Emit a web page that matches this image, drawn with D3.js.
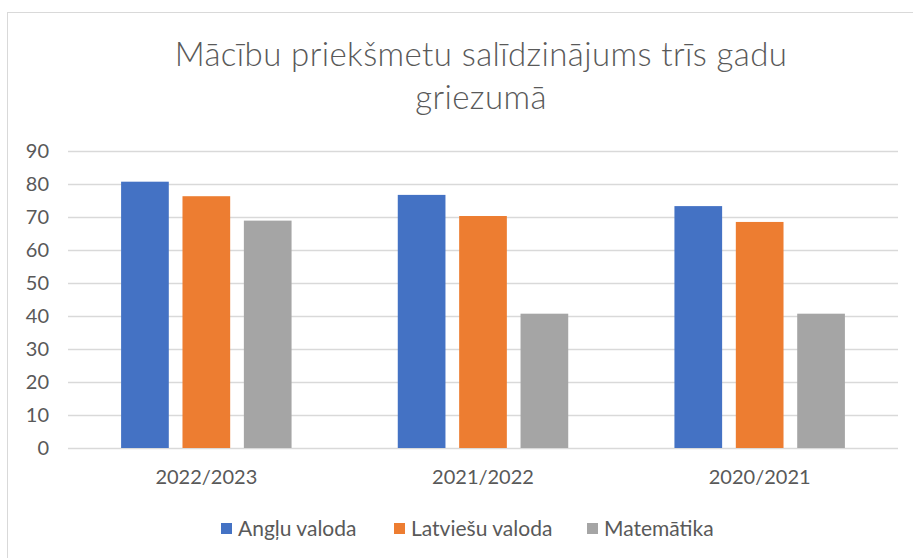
<!DOCTYPE html>
<html>
<head>
<meta charset="utf-8">
<script src="https://cdn.jsdelivr.net/npm/d3@7"></script>
<style>
  body { margin: 0; background: #fff; }
  svg { display: block; font-family: Lato, "Open Sans", sans-serif; }
</style>
</head>
<body>
<svg id="chart" width="913" height="558"></svg>
<script>
// data
const years = ['2022/2023', '2021/2022', '2020/2021'];
const subjects = ['Angļu valoda', 'Latviešu valoda', 'Matemātika'];
const angluValues = [80.7, 76.7, 73.3];
const latviesuValues = [76.3, 70.3, 68.5];
const matematikaValues = [68.9, 40.7, 40.7];
const yTicks = [0, 10, 20, 30, 40, 50, 60, 70, 80, 90];
const colors = ['#4472C4', '#ED7D31', '#A5A5A5'];

const seriesValues = [angluValues, latviesuValues, matematikaValues];

const svg = d3.select('#chart');

// chart frame
svg.append('rect')
  .attr('x', 7.5).attr('y', 12.5)
  .attr('width', 940).attr('height', 600)
  .attr('fill', '#fff')
  .attr('stroke', '#d9d9d9');

// title
const title = svg.append('text')
  .attr('text-anchor', 'middle')
  .attr('fill', '#595959')
  .style('font-weight', 300)
  .style('font-size', '33px')
  .style('letter-spacing', '0.4px');
title.append('tspan').attr('x', 481).attr('y', 66).text('Mācību priekšmetu salīdzinājums trīs gadu');
title.append('tspan').attr('x', 481).attr('y', 109).text('griezumā');

const xScale = d3.scaleBand()
  .domain(years)
  .range([68, 898]);

const xInner = d3.scaleBand()
  .domain(subjects)
  .range([0, xScale.bandwidth()])
  .paddingInner(0.223)
  .paddingOuter(0.865);

const yScale = d3.scaleLinear()
  .domain([0, 90])
  .range([448, 151]);

// gridlines
svg.append('g')
  .selectAll('line')
  .data(yTicks)
  .enter()
  .append('line')
  .attr('x1', 68)
  .attr('x2', 898)
  .attr('y1', d => Math.round(yScale(d)) + 0.5)
  .attr('y2', d => Math.round(yScale(d)) + 0.5)
  .attr('stroke', '#d9d9d9')
  .attr('stroke-width', 1.3);

// y axis labels
const yAxis = svg.append('g')
  .attr('transform', 'translate(58, 0)')
  .call(d3.axisLeft(yScale).tickValues(yTicks).tickSize(0).tickPadding(9));
yAxis.select('.domain').remove();
yAxis.selectAll('text')
  .attr('fill', '#595959')
  .style('font-size', '20px')
  .style('font-family', 'Lato, sans-serif');

// bars
const groups = svg.append('g')
  .selectAll('g')
  .data(years)
  .enter()
  .append('g')
  .attr('transform', d => `translate(${xScale(d)}, 0)`);

groups.selectAll('rect')
  .data((d, i) => subjects.map((s, j) => ({ subject: s, value: seriesValues[j][i], color: colors[j] })))
  .enter()
  .append('rect')
  .attr('x', d => xInner(d.subject))
  .attr('width', xInner.bandwidth())
  .attr('y', d => yScale(d.value))
  .attr('height', d => yScale(0) - yScale(d.value))
  .attr('fill', d => d.color);

// x axis labels
const xAxis = svg.append('g')
  .attr('transform', 'translate(0, 470)')
  .call(d3.axisBottom(xScale).tickSize(0).tickPadding(0));
xAxis.select('.domain').remove();
xAxis.selectAll('text')
  .attr('fill', '#595959')
  .style('font-size', '20px')
  .style('font-family', 'Lato, sans-serif');

// legend
const legendX = [221, 394, 587];
const legend = svg.append('g')
  .selectAll('g')
  .data(subjects)
  .enter()
  .append('g')
  .attr('transform', (d, i) => `translate(${legendX[i]}, 529)`);
legend.append('rect')
  .attr('x', 0).attr('y', -6)
  .attr('width', 11).attr('height', 11)
  .attr('fill', (d, i) => colors[i]);
legend.append('text')
  .attr('x', 17)
  .attr('dy', '0.35em')
  .attr('fill', '#595959')
  .style('font-size', '21px')
  .text(d => d);
</script>
</body>
</html>
